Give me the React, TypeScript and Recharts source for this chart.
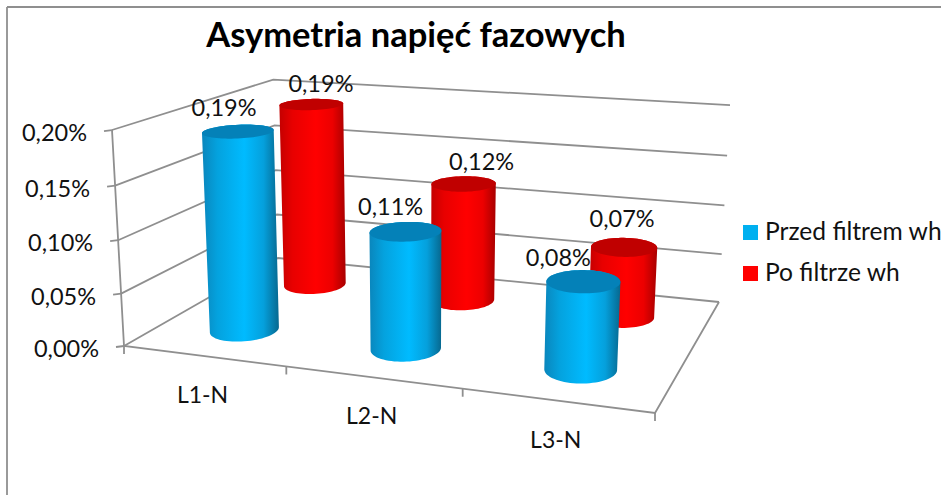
import { BarChart, Bar, XAxis, YAxis, CartesianGrid, LabelList } from 'recharts'

const categories = ['L1-N', 'L2-N', 'L3-N']
const przedValues = [0.19, 0.11, 0.08]
const poValues = [0.19, 0.12, 0.07]
const yTicks = [0, 0.05, 0.1, 0.15, 0.2]
const seriesNames = ['Przed filtrem wh', 'Po filtrze wh']

const tableData = categories.map((name, i) => ({ name, przed: przedValues[i], po: poValues[i] }))

const W = 941
const H = 495
const FONT = 'Lato, Carlito, sans-serif'
const GRID = '#8f8f8f'
const LINE_W = 1.8
const PLOT = { left: 124, right: 719, top: 130, bottom: 346 }
const plotW = PLOT.right - PLOT.left
const plotH = PLOT.bottom - PLOT.top

// floor corners on screen: front-left, front-right, back-right, back-left
const [p0, p1, p2, p3] = [[124, 346], [655, 413], [719, 302], [278, 258]]
const dx1 = p1[0] - p2[0], dy1 = p1[1] - p2[1]
const dx2 = p3[0] - p2[0], dy2 = p3[1] - p2[1]
const sx = p0[0] - p1[0] + p2[0] - p3[0], sy = p0[1] - p1[1] + p2[1] - p3[1]
const den = dx1 * dy2 - dx2 * dy1
const g = (sx * dy2 - dx2 * sy) / den
const h = (dx1 * sy - sx * dy1) / den
const a = p1[0] - p0[0] + g * p1[0], b = p3[0] - p0[0] + h * p3[0]
const d = p1[1] - p0[1] + g * p1[1], e = p3[1] - p0[1] + h * p3[1]
// verticals converge on a point far below the chart
const VANISH = [420, 5675]
const ZW = -0.03895

// u along categories, t into the depth, z up the value axis (all 0..1)
const project = (u: number, t: number, z: number) => {
  const w = g * u + h * t + 1 + z * ZW
  return [
    (a * u + b * t + p0[0] + z * ZW * VANISH[0]) / w,
    (d * u + e * t + p0[1] + z * ZW * VANISH[1]) / w,
  ]
}
const toU = (x: number) => (x - PLOT.left) / plotW
const toZ = (y: number) => (PLOT.bottom - y) / plotH
const pts = (list: number[][]) => list.map(p => `${p[0].toFixed(1)},${p[1].toFixed(1)}`).join(' ')

const hull = (list: number[][]) => {
  const s = [...list].sort((m, n) => m[0] - n[0] || m[1] - n[1])
  const cross = (o: number[], m: number[], n: number[]) =>
    (m[0] - o[0]) * (n[1] - o[1]) - (m[1] - o[1]) * (n[0] - o[0])
  const half = (arr: number[][]) => {
    const out: number[][] = []
    for (const p of arr) {
      while (out.length > 1 && cross(out[out.length - 2], out[out.length - 1], p) <= 0) out.pop()
      out.push(p)
    }
    out.pop()
    return out
  }
  return [...half(s), ...half([...s].reverse())]
}

const R_U = 0.064
const R_T = 0.112
const DEPTH_PRZED = 0.25
const DEPTH_PO = 0.75

const ring = (u: number, t: number, z: number) =>
  Array.from({ length: 72 }, (_, i) => {
    const th = (i / 72) * Math.PI * 2
    return project(u + R_U * Math.cos(th), t + R_T * Math.sin(th), z)
  })

const Cylinder = ({ x, y, width, depth, grad, cap }: any) => {
  const u = toU(x + width / 2)
  const z = toZ(y)
  const top = ring(u, depth, z)
  const bottom = ring(u, depth, 0)
  return (
    <g>
      <polygon points={pts(hull([...top, ...bottom]))} fill={`url(#${grad})`} />
      <polygon points={pts(top)} fill={cap} />
    </g>
  )
}

const PRZED_NUDGE = [[-14, -24.5], [-15, -25.6], [-25, -24.5]]
const PO_NUDGE = [[9.5, -21], [18, -23], [-2, -29.5]]

const BarLabel = ({ x, y, width, value, index, depth, nudge }: any) => {
  const c = project(toU(x + width / 2), depth, toZ(y))
  return (
    <text x={c[0] + nudge[index][0]} y={c[1] + nudge[index][1]} textAnchor="middle" dominantBaseline="central"
      fontFamily={FONT} fontSize={23.5} fill="#111">
      {value.toFixed(2).replace('.', ',')}%
    </text>
  )
}

const ValueTick = ({ y, payload }: any) => {
  const c = project(0, 0, toZ(y))
  return (
    <g>
      <line x1={c[0] - 8} y1={c[1] + 1} x2={c[0]} y2={c[1]} stroke={GRID} strokeWidth={LINE_W} />
      <text x={c[0] - 25} y={c[1] + 2} textAnchor="end" dominantBaseline="central"
        fontFamily={FONT} fontSize={23.5} fill="#111">
        {payload.value.toFixed(2).replace('.', ',')}%
      </text>
    </g>
  )
}

const CategoryTick = ({ x, payload, index }: any) => {
  const u = toU(payload.coordinate ?? x)
  const band = 1 / categories.length
  const c = project(u, 0, 0)
  const edges = index === categories.length - 1 ? [u - band / 2, u + band / 2] : [u - band / 2]
  return (
    <g>
      {edges.map((eu, i) => {
        const q = project(eu, 0, 0)
        return <line key={i} x1={q[0]} y1={q[1]} x2={q[0]} y2={q[1] + 8} stroke={GRID} strokeWidth={LINE_W} />
      })}
      <text x={c[0] - 1} y={c[1] + 38} textAnchor="middle" dominantBaseline="central"
        fontFamily={FONT} fontSize={23} fill="#111">
        {payload.value}
      </text>
    </g>
  )
}

const wallLine = (props: any) => {
  const z = toZ(props.y1)
  return (
    <polyline key={props.y1} points={pts([project(0, 0, z), project(0, 1, z), project(1, 1, z)])}
      fill="none" stroke={GRID} strokeWidth={LINE_W} />
  )
}

const LEGEND_COLORS = ['#00B0F0', '#FF0000']

const LegendBox = () => (
  <g>
    {seriesNames.map((name, i) => (
      <g key={name}>
        <rect x={743} y={225 + i * 41} width={15} height={15} fill={LEGEND_COLORS[i]} />
        <text x={765} y={240 + i * 41} fontFamily={FONT} fontSize={24.6} fill="#111">{name}</text>
      </g>
    ))}
  </g>
)

export default function App() {
  return (
    <div style={{ position: 'absolute', left: 0, top: 0, width: W, height: H, background: '#fff', overflow: 'hidden' }}>
      <BarChart width={W} height={H} data={tableData} barSize={80} barGap={-80}
        margin={{ left: PLOT.left - 1, right: W - PLOT.right, top: PLOT.top, bottom: H - PLOT.bottom - 1 }}>
        <defs>
          <linearGradient id="blueSide" x1="0" y1="0" x2="1" y2="0">
            <stop offset="0" stopColor="#0A86BC" />
            <stop offset="0.2" stopColor="#04A2DE" />
            <stop offset="0.55" stopColor="#00BBFF" />
            <stop offset="0.8" stopColor="#05A0DC" />
            <stop offset="1" stopColor="#07688F" />
          </linearGradient>
          <linearGradient id="redSide" x1="0" y1="0" x2="1" y2="0">
            <stop offset="0" stopColor="#C40000" />
            <stop offset="0.2" stopColor="#E80000" />
            <stop offset="0.55" stopColor="#FF0000" />
            <stop offset="0.8" stopColor="#EC0000" />
            <stop offset="1" stopColor="#A80000" />
          </linearGradient>
        </defs>
        <line x1={7} y1={7} x2={W} y2={7} stroke={GRID} strokeWidth={LINE_W} />
        <line x1={7} y1={7} x2={7} y2={H} stroke={GRID} strokeWidth={LINE_W} />
        <text x={416} y={47} textAnchor="middle" fontFamily={FONT} fontSize={34.5} fontWeight={700} fill="#000">
          Asymetria napięć fazowych
        </text>
        <polyline points={pts([project(0, 0, 1), project(0, 0, 0), project(1, 0, 0), project(1, 1, 0)])}
          fill="none" stroke={GRID} strokeWidth={LINE_W} />
        <CartesianGrid vertical={false} horizontal={wallLine} />
        <XAxis dataKey="name" axisLine={false} tickLine={false} height={1} tick={<CategoryTick />} interval={0} />
        <YAxis domain={[0, 0.2]} ticks={yTicks} axisLine={false} tickLine={false} width={1} tick={<ValueTick />} interval={0} />
        <LegendBox />
        <Bar dataKey="po" name={seriesNames[1]} isAnimationActive={false}
          shape={(p: any) => <Cylinder {...p} depth={DEPTH_PO} grad="redSide" cap="#C00000" />}>
          <LabelList dataKey="po" content={(p: any) => <BarLabel {...p} depth={DEPTH_PO} nudge={PO_NUDGE} />} />
        </Bar>
        <Bar dataKey="przed" name={seriesNames[0]} isAnimationActive={false}
          shape={(p: any) => <Cylinder {...p} depth={DEPTH_PRZED} grad="blueSide" cap="#0481B8" />}>
          <LabelList dataKey="przed" content={(p: any) => <BarLabel {...p} depth={DEPTH_PRZED} nudge={PRZED_NUDGE} />} />
        </Bar>
      </BarChart>
    </div>
  )
}
